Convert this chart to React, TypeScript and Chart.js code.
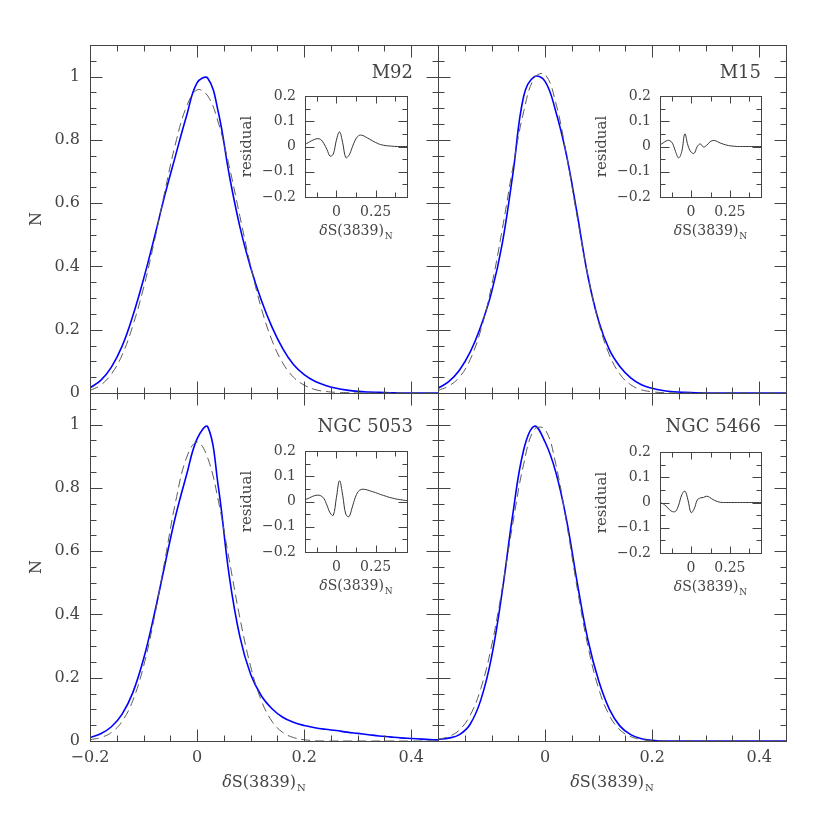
import React, { useEffect, useRef } from 'react';
import { Chart, registerables } from 'chart.js';

Chart.register(...registerables);

// ---------- data ----------
const X = [-0.2, -0.18, -0.16, -0.14, -0.12, -0.1, -0.08, -0.06, -0.04, -0.02, 0, 0.02, 0.04, 0.06, 0.08, 0.1, 0.12, 0.14, 0.16, 0.18, 0.2, 0.22, 0.24, 0.26, 0.28, 0.3, 0.32, 0.34, 0.36, 0.38, 0.4, 0.42, 0.44, 0.46];

const M92_OBS = [0.016, 0.040, 0.082, 0.148, 0.244, 0.360, 0.490, 0.627, 0.752, 0.874, 0.980, 0.995, 0.885, 0.690, 0.525, 0.397, 0.293, 0.208, 0.140, 0.090, 0.058, 0.037, 0.024, 0.015, 0.009, 0.005, 0.003, 0.002, 0.001, 0, 0, 0, 0, 0];
const M92_FIT = [0.008, 0.025, 0.060, 0.120, 0.213, 0.332, 0.478, 0.639, 0.790, 0.904, 0.958, 0.939, 0.853, 0.717, 0.558, 0.402, 0.268, 0.166, 0.095, 0.050, 0.025, 0.011, 0.005, 0.002, 0.001, 0, 0, 0, 0, 0, 0, 0, 0, 0];
const M92_RES = [0.008, 0.015, 0.022, 0.028, 0.031, 0.028, 0.012, -0.012, -0.038, -0.030, 0.025, 0.058, 0.015, -0.044, -0.035, -0.005, 0.025, 0.042, 0.045, 0.040, 0.033, 0.026, 0.019, 0.013, 0.008, 0.005, 0.003, 0.002, 0.001, 0, 0, 0, 0, 0];

const M15_OBS = [0.015, 0.036, 0.072, 0.129, 0.211, 0.318, 0.472, 0.694, 0.938, 1.000, 0.985, 0.890, 0.752, 0.566, 0.369, 0.228, 0.137, 0.083, 0.048, 0.026, 0.015, 0.008, 0.004, 0.002, 0.001, 0, 0, 0, 0, 0, 0, 0, 0, 0];
const M15_FIT = [0.008, 0.022, 0.050, 0.105, 0.199, 0.338, 0.517, 0.714, 0.889, 0.996, 1.007, 0.917, 0.752, 0.556, 0.371, 0.223, 0.121, 0.059, 0.026, 0.010, 0.004, 0.001, 0, 0, 0, 0, 0, 0, 0, 0, 0, 0, 0, 0];
const M15_RES = [0.007, 0.014, 0.022, 0.024, 0.013, -0.020, -0.045, -0.020, 0.050, 0.004, -0.022, -0.027, 0.000, 0.010, -0.002, 0.005, 0.017, 0.024, 0.022, 0.016, 0.011, 0.007, 0.004, 0.002, 0.001, 0, 0, 0, 0, 0, 0, 0, 0, 0];

const N5053_OBS = [0.011, 0.023, 0.045, 0.085, 0.153, 0.259, 0.400, 0.558, 0.712, 0.839, 0.955, 0.993, 0.800, 0.523, 0.329, 0.211, 0.143, 0.102, 0.075, 0.059, 0.049, 0.042, 0.037, 0.033, 0.028, 0.024, 0.020, 0.016, 0.013, 0.010, 0.008, 0.006, 0.004, 0.003];
const N5053_FIT = [0.004, 0.011, 0.027, 0.062, 0.128, 0.236, 0.389, 0.573, 0.757, 0.894, 0.945, 0.894, 0.757, 0.573, 0.389, 0.236, 0.128, 0.062, 0.027, 0.011, 0.004, 0.001, 0, 0, 0, 0, 0, 0, 0, 0, 0, 0, 0, 0];
const N5053_RES = [0.007, 0.012, 0.018, 0.023, 0.025, 0.023, 0.012, -0.015, -0.045, -0.055, 0.015, 0.082, 0.025, -0.050, -0.060, -0.025, 0.015, 0.040, 0.048, 0.048, 0.045, 0.041, 0.037, 0.033, 0.028, 0.024, 0.020, 0.016, 0.013, 0.010, 0.008, 0.006, 0.004, 0.003];

const N5466_OBS = [0.005, 0.009, 0.020, 0.053, 0.130, 0.265, 0.473, 0.720, 0.920, 0.995, 0.945, 0.850, 0.700, 0.501, 0.320, 0.191, 0.101, 0.047, 0.020, 0.007, 0.002, 0, 0, 0, 0, 0, 0, 0, 0, 0, 0, 0, 0, 0];
const N5466_FIT = [0.005, 0.014, 0.035, 0.081, 0.166, 0.300, 0.483, 0.690, 0.875, 0.985, 0.985, 0.875, 0.690, 0.483, 0.300, 0.166, 0.081, 0.035, 0.014, 0.005, 0.001, 0, 0, 0, 0, 0, 0, 0, 0, 0, 0, 0, 0, 0];
const N5466_RES = [0, -0.005, -0.015, -0.028, -0.036, -0.035, -0.010, 0.030, 0.045, 0.010, -0.040, -0.025, 0.010, 0.018, 0.020, 0.025, 0.020, 0.012, 0.006, 0.002, 0, 0, 0, 0, 0, 0, 0, 0, 0, 0, 0, 0, 0, 0];

const TITLES = ['M92', 'M15', 'NGC 5053', 'NGC 5466'];

// main axes ticks
const MAIN_X_MAJOR = [-0.2, 0, 0.2, 0.4];
const MAIN_X_MINOR = [-0.15, -0.1, -0.05, 0.05, 0.1, 0.15, 0.25, 0.3, 0.35];
const MAIN_Y_MAJOR = [0, 0.2, 0.4, 0.6, 0.8, 1.0];
const MAIN_Y_MINOR = [0.05, 0.1, 0.15, 0.25, 0.3, 0.35, 0.45, 0.5, 0.55, 0.65, 0.7, 0.75, 0.85, 0.9, 0.95, 1.05];
const MAIN_X_LABELS_LEFT = ['\u22120.2', '0', '0.2', '0.4'];
const MAIN_X_LABELS_RIGHT = ['', '0', '0.2', '0.4'];
const MAIN_Y_LABELS = ['0', '0.2', '0.4', '0.6', '0.8', '1'];

// inset axes ticks
const INSET_X_MAJOR = [0, 0.25];
const INSET_X_MINOR = [-0.125, 0.125, 0.375];
const INSET_Y_MAJOR = [-0.2, -0.1, 0, 0.1, 0.2];
const INSET_Y_MINOR = [-0.15, -0.05, 0.05, 0.15];
const INSET_X_LABELS = ['0', '0.25'];
const INSET_Y_LABELS = ['\u22120.2', '\u22120.1', '0', '0.1', '0.2'];

const FONT = '"DejaVu Serif"';
const TEXT = '#444';
const FRAME = '#444';

// ---------- plugins ----------
const frameTicks = {
  id: 'frameTicks',
  afterDraw(chart: any, _a: any, o: any) {
    const { ctx, chartArea: a } = chart;
    const xs = chart.scales.x, ys = chart.scales.y;
    ctx.save();
    ctx.strokeStyle = FRAME;
    ctx.lineWidth = 1;
    const L = Math.round(a.left) + 0.5, R = Math.round(a.right) + 0.5;
    const T = Math.round(a.top) + 0.5, B = Math.round(a.bottom) + 0.5;
    ctx.strokeRect(L, T, R - L, B - T);
    ctx.beginPath();
    const xt = (vals: number[], len: number) => vals.forEach((v) => {
      const p = Math.round(xs.getPixelForValue(v)) + 0.5;
      ctx.moveTo(p, B); ctx.lineTo(p, B - len);
      ctx.moveTo(p, T); ctx.lineTo(p, T + len);
    });
    const yt = (vals: number[], len: number) => vals.forEach((v) => {
      const p = Math.round(ys.getPixelForValue(v)) + 0.5;
      ctx.moveTo(L, p); ctx.lineTo(L + len, p);
      ctx.moveTo(R, p); ctx.lineTo(R - len, p);
    });
    xt(o.xMajor, o.xMajLen); xt(o.xMinor, o.xMinLen);
    yt(o.yMajor, o.yMajLen); yt(o.yMinor, o.yMinLen);
    ctx.stroke();
    ctx.restore();
  },
};

function drawDeltaS(ctx: CanvasRenderingContext2D, cx: number, base: number, size: number) {
  const f1 = `italic ${size}px ${FONT}`;
  const f2 = `${size}px ${FONT}`;
  const sub = Math.round(size * 0.62);
  const f3 = `${sub}px ${FONT}`;
  ctx.font = f1; const w1 = ctx.measureText('\u03b4').width;
  ctx.font = f2; const w2 = ctx.measureText('S(3839)').width;
  ctx.font = f3; const w3 = ctx.measureText('N').width;
  let x = cx - (w1 + w2 + w3 + 1) / 2;
  ctx.textAlign = 'left';
  ctx.textBaseline = 'alphabetic';
  ctx.font = f1; ctx.fillText('\u03b4', x, base); x += w1;
  ctx.font = f2; ctx.fillText('S(3839)', x, base); x += w2 + 1;
  ctx.font = f3; ctx.fillText('N', x, base + size * 0.28);
}

const annot = {
  id: 'annot',
  afterDraw(chart: any, _a: any, o: any) {
    const { ctx, chartArea: a } = chart;
    ctx.save();
    ctx.fillStyle = TEXT;
    if (o.title) {
      ctx.font = `${o.title.size}px ${FONT}`;
      ctx.textAlign = 'right';
      ctx.textBaseline = 'alphabetic';
      ctx.fillText(o.title.text, a.right - o.title.right, a.top + o.title.baseline);
    }
    if (o.xTitle) {
      drawDeltaS(ctx, (a.left + a.right) / 2, a.bottom + o.xTitle.baseline, o.xTitle.size);
    }
    if (o.yTitle) {
      ctx.translate(a.left - o.yTitle.offset, (a.top + a.bottom) / 2);
      ctx.rotate(-Math.PI / 2);
      ctx.font = `${o.yTitle.size}px ${FONT}`;
      ctx.textAlign = 'center';
      ctx.textBaseline = 'middle';
      ctx.fillText(o.yTitle.text, 0, 0);
    }
    ctx.restore();
  },
};

const pts = (ys: number[]) => X.map((x, i) => ({ x, y: ys[i] }));

type Rect = [number, number, number, number];

// yW / xH: fixed room given to the left (y) and bottom (x) axis boxes
function baseOptions(rect: Rect, yW: number, xH: number) {
  return {
    animation: false,
    responsive: false,
    devicePixelRatio: 1,
    events: [],
    layout: { padding: { left: rect[0] - yW, top: rect[1], right: 830 - rect[2], bottom: 830 - rect[3] - xH } },
  };
}

function makeMain(p: any) {
  const yW = p.left ? 60 : 0;
  const xH = p.bottom ? 30 : 0;
  return {
    type: 'line',
    data: {
      datasets: [
        { data: pts(p.fit), borderColor: '#5a5a5a', borderWidth: 1, borderDash: [9, 5], pointRadius: 0, tension: 0.4, fill: false },
        { data: pts(p.obs), borderColor: '#0000ff', borderWidth: 1.6, pointRadius: 0, tension: 0.4, fill: false },
      ],
    },
    options: {
      ...baseOptions(p.rect, yW, xH),
      plugins: {
        legend: { display: false },
        tooltip: { enabled: false },
        frameTicks: { xMajor: MAIN_X_MAJOR, xMinor: MAIN_X_MINOR, yMajor: MAIN_Y_MAJOR, yMinor: MAIN_Y_MINOR, xMajLen: 12, xMinLen: 6, yMajLen: 12, yMinLen: 6 },
        annot: {
          title: { text: p.title, right: 25, baseline: p.titleBase, size: 18 },
          xTitle: p.bottom ? { baseline: 46, size: 16 } : null,
          yTitle: p.left ? { text: 'N', offset: 53, size: 16 } : null,
        },
      },
      scales: {
        x: {
          type: 'linear', min: -0.2, max: 0.45,
          afterFit: (s: any) => { s.height = xH; },
          afterBuildTicks: (s: any) => { s.ticks = MAIN_X_MAJOR.map((v) => ({ value: v })); },
          grid: { display: false, drawTicks: false },
          border: { display: false },
          ticks: {
            display: p.bottom, padding: 7, color: TEXT, font: { family: FONT, size: 16 },
            maxRotation: 0, autoSkip: false,
            callback: (_v: any, i: number) => (p.left ? MAIN_X_LABELS_LEFT : MAIN_X_LABELS_RIGHT)[i],
          },
        },
        y: {
          type: 'linear', min: 0, max: 1.1,
          afterFit: (s: any) => { s.width = yW; },
          afterBuildTicks: (s: any) => { s.ticks = MAIN_Y_MAJOR.map((v) => ({ value: v })); },
          grid: { display: false, drawTicks: false },
          border: { display: false },
          ticks: {
            display: p.left, padding: 10, color: TEXT, font: { family: FONT, size: 16 },
            autoSkip: false,
            callback: (_v: any, i: number) => MAIN_Y_LABELS[i],
          },
        },
      },
    },
    plugins: [frameTicks, annot],
  };
}

function makeInset(p: any) {
  const yW = 45;
  const xH = 24;
  return {
    type: 'line',
    data: {
      datasets: [
        { data: pts(p.res), borderColor: '#333', borderWidth: 1, pointRadius: 0, tension: 0.4, fill: false },
      ],
    },
    options: {
      ...baseOptions(p.rect, yW, xH),
      plugins: {
        legend: { display: false },
        tooltip: { enabled: false },
        frameTicks: { xMajor: INSET_X_MAJOR, xMinor: INSET_X_MINOR, yMajor: INSET_Y_MAJOR, yMinor: INSET_Y_MINOR, xMajLen: 7, xMinLen: 5, yMajLen: 9, yMinLen: 5 },
        annot: {
          xTitle: { baseline: 38, size: 14 },
          yTitle: { text: 'residual', offset: 58, size: 15 },
        },
      },
      scales: {
        x: {
          type: 'linear', min: -0.2, max: 0.45,
          afterFit: (s: any) => { s.height = xH; },
          afterBuildTicks: (s: any) => { s.ticks = INSET_X_MAJOR.map((v) => ({ value: v })); },
          grid: { display: false, drawTicks: false },
          border: { display: false },
          ticks: {
            padding: 7, color: TEXT, font: { family: FONT, size: 14 }, maxRotation: 0, autoSkip: false,
            callback: (_v: any, i: number) => INSET_X_LABELS[i],
          },
        },
        y: {
          type: 'linear', min: -0.2, max: 0.2,
          afterFit: (s: any) => { s.width = yW; },
          afterBuildTicks: (s: any) => { s.ticks = INSET_Y_MAJOR.map((v) => ({ value: v })); },
          grid: { display: false, drawTicks: false },
          border: { display: false },
          ticks: {
            padding: 9, color: TEXT, font: { family: FONT, size: 14 }, autoSkip: false,
            callback: (_v: any, i: number) => INSET_Y_LABELS[i],
          },
        },
      },
    },
    plugins: [frameTicks, annot],
  };
}

function ChartLayer({ config }: { config: any }) {
  const ref = useRef<HTMLCanvasElement>(null);
  useEffect(() => {
    const chart = new Chart(ref.current as HTMLCanvasElement, config);
    return () => chart.destroy();
  }, [config]);
  return (
    <canvas
      ref={ref}
      width={830}
      height={830}
      style={{ position: 'absolute', left: 0, top: 0, width: 830, height: 830 }}
    />
  );
}

const CONFIGS = [
  makeMain({ rect: [90, 45, 438, 393], obs: M92_OBS, fit: M92_FIT, title: TITLES[0], titleBase: 33, left: true, bottom: false }),
  makeMain({ rect: [438, 45, 786, 393], obs: M15_OBS, fit: M15_FIT, title: TITLES[1], titleBase: 33, left: false, bottom: false }),
  makeMain({ rect: [90, 393, 438, 741], obs: N5053_OBS, fit: N5053_FIT, title: TITLES[2], titleBase: 39, left: true, bottom: true }),
  makeMain({ rect: [438, 393, 786, 741], obs: N5466_OBS, fit: N5466_FIT, title: TITLES[3], titleBase: 39, left: false, bottom: true }),
  makeInset({ rect: [305, 96, 407, 197], res: M92_RES }),
  makeInset({ rect: [660, 96, 761, 197], res: M15_RES }),
  makeInset({ rect: [305, 451, 407, 552], res: N5053_RES }),
  makeInset({ rect: [660, 452, 761, 553], res: N5466_RES }),
];

export default function App() {
  return (
    <div style={{ position: 'absolute', left: 0, top: 0, width: 830, height: 830, background: '#fff' }}>
      {CONFIGS.map((c, i) => (
        <ChartLayer key={i} config={c} />
      ))}
    </div>
  );
}
